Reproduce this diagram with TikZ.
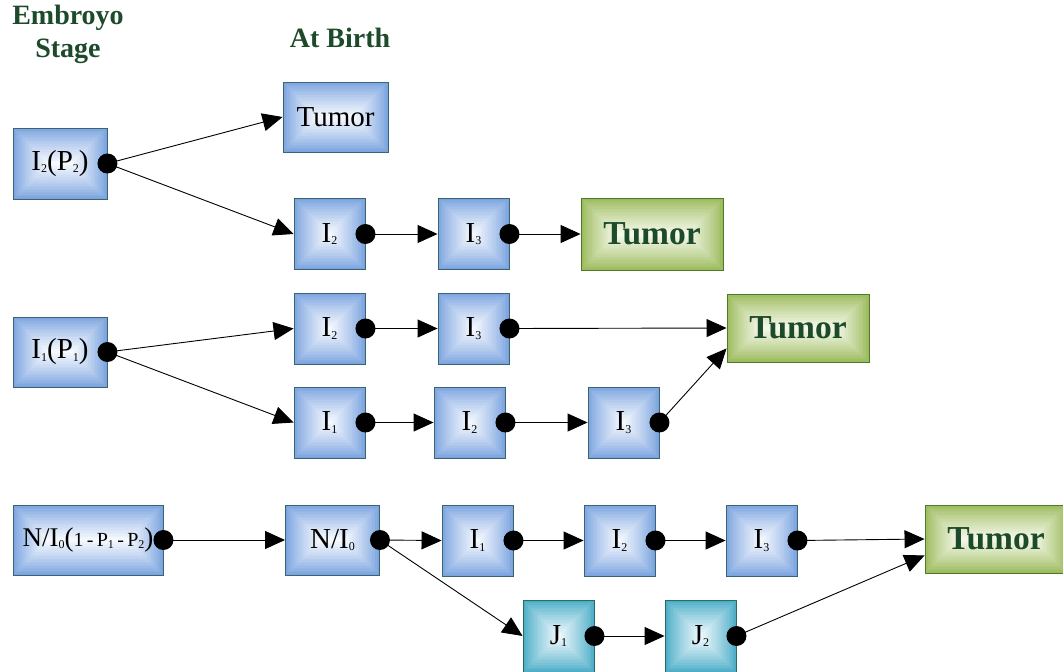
\documentclass[tikz,border=0pt]{standalone}
\usepackage{fontspec}
\setmainfont{Liberation Serif}
\usetikzlibrary{arrows.meta,calc}
\definecolor{bedge}{HTML}{79A3DF}
\definecolor{binner}{HTML}{F6F9FE}
\definecolor{bborder}{HTML}{3A6472}
\definecolor{gedge}{HTML}{9BBA5C}
\definecolor{ginner}{HTML}{F4F8E8}
\definecolor{gborder}{HTML}{4E7A2C}
\definecolor{tedge}{HTML}{4BADC7}
\definecolor{tinner}{HTML}{F0F9FC}
\definecolor{tborder}{HTML}{2C6A64}
\definecolor{dgreen}{HTML}{1C4A2A}
\newcommand\sbs[1]{\raisebox{-0.08em}{\fontsize{12}{12}\selectfont #1}}
\tikzset{
  bevel/.style 2 args={path picture={
    \foreach \i in {0,...,23} {
      \pgfmathtruncatemacro\bvf{100*(\i/23)^0.85}
      \fill[#2!\bvf!#1] let \p1=(path picture bounding box.south west),
              \p2=(path picture bounding box.north east),
              \n1={(\y2-\y1)/2*\i/24} in
        (\x1+\n1,\y1+\n1) rectangle (\x2-\n1,\y2-\n1);
    }
  }},
  box/.style={draw=bborder, line width=0.9pt, inner sep=0pt, bevel={bedge}{binner},
    minimum width=71pt, minimum height=71pt, font=\fontsize{29}{29}\selectfont},
  gbox/.style={draw=gborder, line width=0.9pt, inner sep=0pt, bevel={gedge}{ginner},
    minimum width=142pt, minimum height=70pt, text=dgreen, font=\fontsize{33.5}{33.5}\selectfont\bfseries},
  tbox/.style={draw=tborder, line width=0.9pt, inner sep=0pt, bevel={tedge}{tinner},
    minimum width=71pt, minimum height=72pt, font=\fontsize{29}{29}\selectfont},
  head/.style={text=dgreen, font=\fontsize{28}{28}\selectfont\bfseries, inner sep=0pt},
  conn/.style={line width=0.9pt, -{Triangle[length=20pt,width=18pt]}},
  dot/.style={fill=black}
}
\begin{document}
\begin{tikzpicture}[x=1pt,y=-1pt]
\useasboundingbox (0,0) rectangle (1063,672);
% headers
\node[head] (h1) at (68,18) {Embroyo};
\node[head] (h2) at (68,51) {Stage};
\node[head] (h3) at (340,38) {At Birth};
% boxes
\node[box, minimum width=94pt] (a) at (60,163.5) {I\sbs{2}(P\sbs{2})};
\node[box, minimum width=105pt, minimum height=70pt] (tb) at (335.5,117) {Tumor};
\node[box] (b1) at (329.5,234) {I\sbs{2}};
\node[box] (b2) at (473.5,234) {I\sbs{3}};
\node[gbox, minimum height=72pt] (t1) at (652,234) {Tumor};
\node[box, minimum width=94pt, minimum height=70pt] (c) at (60,352) {I\sbs{1}(P\sbs{1})};
\node[box] (d1) at (329.5,328.5) {I\sbs{2}};
\node[box] (d2) at (473.5,328.5) {I\sbs{3}};
\node[gbox, minimum height=68pt] (t2) at (798,328) {Tumor};
\node[box] (e1) at (329.5,422.5) {I\sbs{1}};
\node[box] (e2) at (469.5,422.5) {I\sbs{2}};
\node[box] (e3) at (623.5,422.5) {I\sbs{3}};
\node[box, minimum width=150pt, minimum height=70pt] (f) at (88,540)
  {{\fontsize{27}{27}\selectfont N/I}\sbs{0}{\fontsize{27}{27}\selectfont(}{\fontsize{20}{20}\selectfont 1\,-\,P\sbs{1}\,-\,P\sbs{2}}{\fontsize{27}{27}\selectfont)}};
\node[box, minimum width=94pt, minimum height=70pt] (g) at (332.5,540) {N/I\sbs{0}\hspace{4pt}};
\node[box] (k1) at (477.5,540.5) {I\sbs{1}};
\node[box] (k2) at (619.5,540.5) {I\sbs{2}};
\node[box] (k3) at (761.5,540.5) {I\sbs{3}};
\node[gbox, minimum height=68pt] (t3) at (996,539) {Tumor};
\node[tbox] (j1) at (558.5,636) {J\sbs{1}};
\node[tbox] (j2) at (700.5,636) {J\sbs{2}};
% connectors
\draw[conn] (a.east) -- (tb.west);
\draw[conn] (a.east) -- (b1.west);
\draw[conn] (b1.east) -- (b2.west);
\draw[conn] (b2.east) -- (t1.west);
\draw[conn] (c.east) -- (d1.west);
\draw[conn] (c.east) -- (e1.west);
\draw[conn] (d1.east) -- (d2.west);
\draw[conn] (d2.east) -- (t2.west);
\draw[conn] (e1.east) -- (e2.west);
\draw[conn] (e2.east) -- (e3.west);
\draw[conn] (e3.east) -- ([yshift=14pt]t2.south west);
\draw[conn] (f.east) -- (g.west);
\draw[conn] (g.east) -- (k1.west);
\draw[conn] (g.east) -- (j1.west);
\draw[conn] (k1.east) -- (k2.west);
\draw[conn] (k2.east) -- (k3.west);
\draw[conn] (k3.east) -- (t3.west);
\draw[conn] (j1.east) -- (j2.west);
\draw[conn] (j2.east) -- ([yshift=18pt]t3.south west);
% dots
\foreach \n in {a,b1,b2,c,d1,d2,e1,e2,e3,f,g,k1,k2,k3,j1,j2}
  \fill[dot] (\n.east) circle (10pt);
\end{tikzpicture}
\end{document}
